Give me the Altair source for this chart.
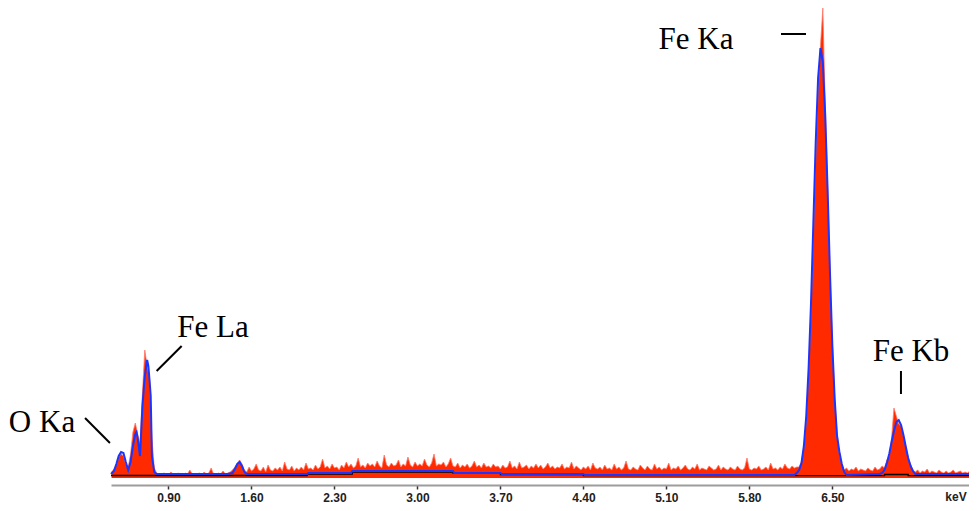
import altair as alt
import pandas as pd

# ---- spectrum (counts per 0.02 keV channel, starting at 0.42 keV) ----
E0 = 0.42
STEP = 0.02
spectrum = [
    4, 7, 11, 19, 22, 20, 12, 9, 22, 44,
    53, 42, 31, 82, 126, 110, 98, 38, 8, 3,
    2, 1, 3, 2, 1, 4, 2, 1, 3, 2,
    1, 3, 2, 6, 2, 1, 2, 3, 1, 4,
    2, 3, 8, 2, 1, 3, 2, 5, 2, 3,
    4, 6, 9, 13, 16, 12, 6, 4, 9, 5,
    7, 12, 6, 5, 9, 4, 11, 6, 5, 8,
    6, 9, 5, 14, 7, 6, 10, 5, 8, 6,
    9, 6, 13, 7, 8, 6, 11, 7, 9, 17,
    8, 10, 7, 12, 8, 9, 6, 11, 8, 14,
    9, 12, 8, 10, 18, 9, 11, 8, 13, 10,
    12, 9, 15, 10, 8, 21, 11, 9, 13, 10,
    11, 16, 9, 12, 10, 19, 11, 9, 14, 10,
    12, 10, 17, 11, 9, 13, 22, 10, 12, 11,
    14, 9, 12, 18, 10, 9, 13, 8, 11, 9,
    12, 8, 10, 15, 9, 11, 8, 13, 9, 10,
    8, 12, 9, 10, 7, 11, 8, 9, 15, 8,
    10, 7, 14, 8, 9, 11, 7, 10, 8, 12,
    8, 11, 7, 9, 13, 8, 10, 7, 9, 8,
    12, 7, 9, 8, 14, 7, 10, 8, 6, 9,
    7, 10, 6, 13, 8, 7, 9, 6, 11, 7,
    8, 6, 12, 7, 9, 6, 8, 15, 7, 6,
    9, 7, 6, 11, 8, 6, 10, 7, 6, 12,
    7, 9, 6, 8, 7, 13, 6, 8, 7, 10,
    6, 8, 11, 7, 6, 9, 7, 12, 6, 8,
    7, 6, 10, 8, 6, 7, 11, 6, 9, 7,
    6, 9, 7, 6, 10, 7, 6, 8, 18, 7,
    6, 8, 7, 10, 6, 7, 9, 6, 13, 7,
    8, 6, 9, 7, 12, 8, 7, 10, 8, 9,
    9, 15, 28, 55, 104, 165, 240, 318, 385, 430,
    468, 372, 290, 206, 133, 78, 42, 22, 12, 6,
    8, 5, 7, 6, 9, 5, 7, 6, 5, 8,
    6, 5, 9, 6, 7, 10, 8, 16, 20, 38,
    68, 60, 52, 50, 40, 30, 18, 12, 6, 4,
    6, 3, 5, 4, 7, 3, 5, 4, 3, 6,
    4, 3, 5, 3, 4, 6, 3, 4, 5, 3,
    4, 3, 5,
]
energy = [round(E0 + STEP * i, 2) for i in range(len(spectrum))]

# ---- fitted profile (blue) ----
fit_kev = [0.415, 0.44, 0.46, 0.48, 0.50, 0.52, 0.54, 0.56, 0.58, 0.60, 0.62, 0.63,
           0.64, 0.66, 0.68, 0.70, 0.72, 0.73, 0.74, 0.75, 0.76, 0.78, 0.80,
           1.40, 1.44, 1.46, 1.48, 1.50, 1.52, 1.54, 1.56,
           2.07, 2.08, 2.44, 2.45, 3.30, 3.31, 3.70, 3.71, 4.40, 4.41,
           6.18, 6.20, 6.22, 6.24, 6.26, 6.28, 6.30, 6.32, 6.34, 6.36, 6.38, 6.40,
           6.42, 6.44, 6.46, 6.48, 6.50, 6.52, 6.54, 6.56, 6.58, 6.60, 6.62,
           6.90, 6.92, 6.94, 6.96, 6.98, 7.00, 7.02, 7.04, 7.06, 7.08, 7.10,
           7.12, 7.14, 7.16, 7.18, 7.20, 7.653]
fit_counts = [2, 5, 12, 20, 24, 23, 14, 6, 14, 30, 42, 44,
              38, 20, 70, 100, 116, 110, 96, 80, 20, 4, 2,
              2, 3, 7, 12, 14, 10, 4, 2,
              2, 3, 3, 5, 5, 3, 3, 2, 2, 1,
              1, 3, 6, 13, 30, 60, 108, 172, 253, 334, 398, 428,
              414, 361, 287, 204, 131, 77, 40, 24, 12, 4, 1,
              2, 3, 6, 13, 22, 34, 45, 54, 56, 51, 41,
              29, 18, 10, 5, 2, 2]

# ---- background (black) ----
bg_kev = [0.415, 2.07, 2.45, 3.30, 3.70, 4.40, 6.94, 7.14, 7.653]
bg_counts = [0.5, 2, 4, 3, 1.5, 0.3, 1.5, 0.3, 0.3]

# ---- axis ticks ----
tick_values = [0.90, 1.60, 2.30, 3.00, 3.70, 4.40, 5.10, 5.80, 6.50]

# ---- peak labels and leader lines ----
labels = ["Fe Ka", "Fe La", "O Ka", "Fe Kb"]
label_kev = [5.350, 1.275, -0.167, 7.164]
label_cnt = [436, 148, 53, 124]
lead_x1 = [6.067, 0.800, 0.196, 7.079]
lead_x2 = [6.278, 1.011, 0.406, 7.079]
lead_y1 = [442, 105, 58, 105]
lead_y2 = [442, 130, 33, 82]

spec_df = pd.DataFrame({"kev": energy, "counts": spectrum})
fit_df = pd.DataFrame({"kev": fit_kev, "counts": fit_counts})
bg_df = pd.DataFrame({"kev": bg_kev, "counts": bg_counts})
lab_df = pd.DataFrame({"label": labels, "kev": label_kev, "counts": label_cnt})
lead_df = pd.DataFrame({"x1": lead_x1, "x2": lead_x2, "y1": lead_y1, "y2": lead_y2})
kev_df = pd.DataFrame({"label": ["keV"], "kev": [7.543], "counts": [-16]})

xs = alt.Scale(domain=[0.415, 7.653], nice=False, zero=False)
ys = alt.Scale(domain=[-9, 468], nice=False, zero=False)

xaxis = alt.Axis(values=tick_values, format=".2f", title=None, grid=False,
                 domainColor="#9c9c9c", domainWidth=2,
                 tickColor="#333333", tickSize=4, tickWidth=1.5,
                 labelFont="Liberation Sans", labelFontWeight="bold",
                 labelFontSize=12, labelColor="#222222", labelPadding=3)

area = alt.Chart(spec_df).mark_area(color="#ff2a00", interpolate="linear").encode(
    x=alt.X("kev:Q", scale=xs, axis=xaxis),
    y=alt.Y("counts:Q", scale=ys, axis=None),
    y2=alt.datum(-2),
)
area_edge = alt.Chart(spec_df).mark_line(color="#ff7a6a", strokeWidth=0.8).encode(
    x=alt.X("kev:Q", scale=xs), y=alt.Y("counts:Q", scale=ys)
)
bg_line = alt.Chart(bg_df).mark_line(color="#000000", strokeWidth=1.3, interpolate="step-after").encode(
    x=alt.X("kev:Q", scale=xs), y=alt.Y("counts:Q", scale=ys)
)
fit_line = alt.Chart(fit_df).mark_line(color="#1a35ff", strokeWidth=2).encode(
    x=alt.X("kev:Q", scale=xs), y=alt.Y("counts:Q", scale=ys)
)
leaders = alt.Chart(lead_df).mark_rule(color="black", strokeWidth=2).encode(
    x=alt.X("x1:Q", scale=xs), x2="x2:Q",
    y=alt.Y("y1:Q", scale=ys), y2="y2:Q",
)
texts = alt.Chart(lab_df).mark_text(font="Liberation Serif", fontSize=31, color="black",
                                    align="center", baseline="middle").encode(
    x=alt.X("kev:Q", scale=xs), y=alt.Y("counts:Q", scale=ys), text="label:N"
)
kev_text = alt.Chart(kev_df).mark_text(font="Liberation Sans", fontWeight="bold", fontSize=12,
                                       color="#222222", align="center", baseline="top").encode(
    x=alt.X("kev:Q", scale=xs), y=alt.Y("counts:Q", scale=ys), text="label:N"
)

chart = alt.layer(area, area_edge, bg_line, fit_line, leaders, texts, kev_text).properties(
    width=858, height=477,
    padding={"left": 103, "top": 0, "right": 0, "bottom": 18},
    autosize=alt.AutoSizeParams(type="none"),
    background="white",
).configure_view(stroke=None)

chart.save("out.html", embed_options={"renderer": "svg", "actions": False})
